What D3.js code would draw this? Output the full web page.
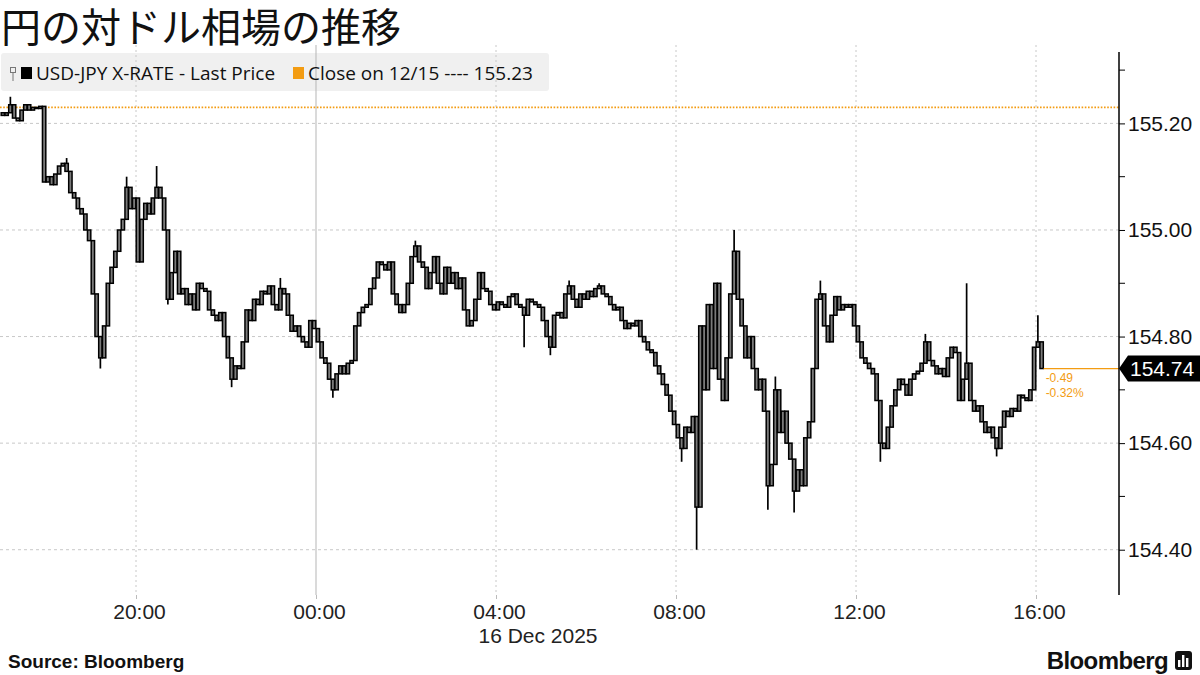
<!DOCTYPE html>
<html>
<head>
<meta charset="utf-8">
<script src="https://cdn.jsdelivr.net/npm/d3@7"></script>
<style>
  body { margin: 0; background: #fff; }
  svg { display: block; font-family: "Liberation Sans", Arial, sans-serif; }
</style>
</head>
<body>
<svg id="drawing_region"></svg>
<script>
// USD-JPY 5 minute bars, 15 Dec 17:00 -> 16 Dec 16:05 (closes)
const firstBar = new Date(2025, 11, 15, 17, 0);
const firstOpen = 155.22;
const closes = [
  155.215, 155.22, 155.235, 155.21, 155.205, 155.225, 155.235, 155.225, 155.23, 155.228, 155.232, 155.09,
  155.10, 155.085, 155.105, 155.12, 155.125, 155.11, 155.07, 155.06, 155.04, 155.03, 155.00, 154.98,
  154.88, 154.80, 154.76, 154.82, 154.90, 154.93, 154.96, 155.00, 155.02, 155.08, 155.04, 155.06,
  154.94, 155.02, 155.05, 155.03, 155.06, 155.08, 155.06, 155.00, 154.87, 154.92, 154.96, 154.88,
  154.89, 154.86, 154.88, 154.85, 154.90, 154.89, 154.885, 154.85, 154.84, 154.83, 154.845, 154.80,
  154.76, 154.72, 154.745, 154.74, 154.79, 154.85, 154.83, 154.87, 154.86, 154.885, 154.88, 154.895,
  154.86, 154.85, 154.89, 154.88, 154.84, 154.81, 154.82, 154.80, 154.79, 154.78, 154.83, 154.815,
  154.79, 154.76, 154.75, 154.72, 154.70, 154.73, 154.745, 154.73, 154.75, 154.755, 154.82, 154.845,
  154.855, 154.86, 154.89, 154.91, 154.94, 154.935, 154.925, 154.94, 154.88, 154.86, 154.845, 154.86,
  154.90, 154.95, 154.97, 154.94, 154.93, 154.89, 154.92, 154.95, 154.90, 154.88, 154.93, 154.90,
  154.92, 154.89, 154.91, 154.85, 154.82, 154.83, 154.87, 154.92, 154.89, 154.885, 154.86, 154.85,
  154.865, 154.86, 154.855, 154.875, 154.88, 154.86, 154.855, 154.84, 154.87, 154.865, 154.86, 154.855,
  154.83, 154.80, 154.78, 154.84, 154.845, 154.835, 154.88, 154.895, 154.87, 154.855, 154.88, 154.87,
  154.885, 154.875, 154.89, 154.895, 154.88, 154.875, 154.86, 154.85, 154.855, 154.83, 154.815, 154.825,
  154.82, 154.83, 154.80, 154.79, 154.775, 154.77, 154.745, 154.73, 154.71, 154.69, 154.66, 154.635,
  154.61, 154.59, 154.63, 154.62, 154.65, 154.48, 154.82, 154.70, 154.86, 154.74, 154.90, 154.72,
  154.68, 154.76, 154.88, 154.96, 154.87, 154.82, 154.76, 154.80, 154.74, 154.70, 154.72, 154.66,
  154.52, 154.56, 154.70, 154.62, 154.66, 154.60, 154.57, 154.51, 154.55, 154.52, 154.61, 154.64,
  154.74, 154.87, 154.88, 154.82, 154.79, 154.84, 154.875, 154.85, 154.86, 154.855, 154.86, 154.82,
  154.79, 154.76, 154.75, 154.74, 154.73, 154.68, 154.60, 154.59, 154.63, 154.67, 154.70, 154.72,
  154.71, 154.69, 154.72, 154.73, 154.735, 154.75, 154.79, 154.755, 154.745, 154.73, 154.74, 154.725,
  154.76, 154.78, 154.77, 154.68, 154.72, 154.75, 154.68, 154.66, 154.67, 154.64, 154.62, 154.63,
  154.61, 154.59, 154.63, 154.66, 154.65, 154.665, 154.66, 154.69, 154.685, 154.68, 154.70, 154.78,
  154.79, 154.74
];
// [bar index, price] for wicks that reach beyond the bar body
const wickHighs = [[2, 155.25], [17, 155.135], [33, 155.10], [41, 155.12], [74, 154.91], [110, 154.98],
  [151, 154.905], [159, 154.90], [195, 155.00], [206, 154.725], [218, 154.905], [246, 154.805],
  [257, 154.90], [276, 154.84]];
const wickLows = [[26, 154.74], [44, 154.86], [61, 154.705], [88, 154.685], [139, 154.78], [146, 154.765],
  [181, 154.565], [185, 154.40], [204, 154.475], [211, 154.47], [234, 154.565], [265, 154.575]];

const prevClose = 155.23;
const lastPrice = 154.74;
const netChange = '-0.49';
const pctChange = '-0.32%';

const yTicks = [154.40, 154.60, 154.80, 155.00, 155.20];
const yMinorTicks = [154.50, 154.70, 154.90, 155.10, 155.30];
const xTicks = [new Date(2025, 11, 15, 20), new Date(2025, 11, 16, 0), new Date(2025, 11, 16, 4),
  new Date(2025, 11, 16, 8), new Date(2025, 11, 16, 12), new Date(2025, 11, 16, 16)];
const xTickLabels = ['20:00', '00:00', '04:00', '08:00', '12:00', '16:00'];
const dateLabel = '16 Dec 2025';

const title = '円の対ドル相場の推移';
const legendItems = ['USD-JPY X-RATE - Last Price', 'Close on 12/15 ---- 155.23'];

class BarChart {
  constructor(config, data) {
    this.config = config;
    this.data = data;
    this.init();
  }

  init() {
    let self = this;
    const c = self.config;
    self.svg = d3.select(c.parent)
      .attr('width', c.width)
      .attr('height', c.height);

    self.x = d3.scaleTime()
      .domain([new Date(2025, 11, 15, 16, 58, 40), new Date(2025, 11, 16, 17, 50, 40)])
      .range([c.left, c.right]);
    self.y = d3.scaleLinear()
      .domain([154.315, 155.334])
      .range([c.bottom, c.top]);
  }

  render() {
    let self = this;
    const c = self.config, x = self.x, y = self.y, svg = self.svg;
    const orange = '#f39c12';

    // title
    svg.append('text')
      .attr('x', 1).attr('y', 42)
      .style('font-family', '"Noto Sans CJK JP", sans-serif')
      .style('font-size', '40px')
      .style('font-weight', 400)
      .attr('fill', '#111')
      .text(title);

    // legend background
    svg.append('rect')
      .attr('x', 1).attr('y', 53).attr('width', 548).attr('height', 38)
      .attr('rx', 3)
      .attr('fill', '#f0f0f0');

    // horizontal grid
    svg.append('g').selectAll('line')
      .data(yTicks).join('line')
      .attr('x1', c.left).attr('x2', c.right)
      .attr('y1', d => y(d)).attr('y2', d => y(d))
      .attr('stroke', '#c8c8c8').attr('stroke-dasharray', '3,3');

    // vertical grid, solid at the day change
    svg.append('g').selectAll('line')
      .data(xTicks).join('line')
      .attr('x1', d => x(d)).attr('x2', d => x(d))
      .attr('y1', 45).attr('y2', c.bottom)
      .attr('stroke', d => d.getHours() === 0 ? '#b5b5b5' : '#c8c8c8')
      .attr('stroke-dasharray', d => d.getHours() === 0 ? null : '2,3');

    // previous close line
    svg.append('line')
      .attr('x1', c.left).attr('x2', c.right)
      .attr('y1', y(prevClose)).attr('y2', y(prevClose))
      .attr('stroke', orange).attr('stroke-width', 1.6)
      .attr('stroke-dasharray', '1.6,1.6');

    // bars
    const bw = 3.75;
    const bars = svg.append('g').selectAll('g')
      .data(self.data).join('g');
    bars.append('line')
      .attr('x1', d => x(d.mid)).attr('x2', d => x(d.mid))
      .attr('y1', d => y(d.high)).attr('y2', d => y(d.low))
      .attr('stroke', '#000').attr('stroke-width', 1.7);
    bars.append('rect')
      .attr('x', d => x(d.mid) - bw / 2 + 0.2)
      .attr('width', bw - 0.4)
      .attr('y', d => y(Math.max(d.open, d.close)))
      .attr('height', d => Math.max(0.5, Math.abs(y(d.open) - y(d.close))))
      .attr('fill', '#7a7a7a')
      .attr('stroke', '#000').attr('stroke-width', 1.5);

    // last price line + change labels
    const last = self.data[self.data.length - 1];
    svg.append('line')
      .attr('x1', x(last.mid) + 2).attr('x2', c.right)
      .attr('y1', y(lastPrice)).attr('y2', y(lastPrice))
      .attr('stroke', orange).attr('stroke-width', 1.2);
    svg.append('text')
      .attr('x', x(last.mid) + 4).attr('y', y(lastPrice) + 13)
      .attr('fill', orange).style('font-size', '12px')
      .text(netChange);
    svg.append('text')
      .attr('x', x(last.mid) + 4).attr('y', y(lastPrice) + 28)
      .attr('fill', orange).style('font-size', '12px')
      .text(pctChange);

    // right axis
    const yAxis = d3.axisRight(y)
      .tickValues(yTicks)
      .tickSize(6)
      .tickFormat(d3.format('.2f'));
    const ag = svg.append('g')
      .attr('transform', `translate(${c.right},0)`)
      .call(yAxis);
    ag.select('.domain').remove();
    ag.selectAll('text').style('font-size', '21px').attr('fill', '#111').attr('x', 9);
    ag.selectAll('line').attr('stroke', '#000');
    svg.append('g')
      .attr('transform', `translate(${c.right},0)`)
      .selectAll('line').data(yMinorTicks).join('line')
      .attr('x1', 0).attr('x2', 6)
      .attr('y1', d => y(d)).attr('y2', d => y(d))
      .attr('stroke', '#000');
    svg.append('line')
      .attr('x1', c.right).attr('x2', c.right)
      .attr('y1', c.top).attr('y2', c.bottom)
      .attr('stroke', '#000').attr('stroke-width', 1.5);

    // last price tag
    const ty = y(lastPrice);
    svg.append('path')
      .attr('d', `M${c.right},${ty} L${c.right + 9},${ty - 13} L1200,${ty - 13} L1200,${ty + 13} L${c.right + 9},${ty + 13} Z`)
      .attr('fill', '#000');
    svg.append('text')
      .attr('x', c.right + 11).attr('y', ty + 7.5)
      .attr('fill', '#fff').style('font-size', '21px')
      .text(d3.format('.2f')(lastPrice));

    // bottom axis
    const xAxis = d3.axisBottom(x)
      .tickValues(xTicks)
      .tickSize(4)
      .tickFormat((d, i) => xTickLabels[i]);
    const xg = svg.append('g')
      .attr('transform', `translate(0,${c.bottom})`)
      .call(xAxis);
    xg.select('.domain').remove();
    xg.selectAll('line').attr('stroke', '#bbb');
    xg.selectAll('text').style('font-size', '21px').attr('fill', '#222').attr('y', 6).attr('dy', '0.85em')
      .attr('dx', 3);
    svg.append('text')
      .attr('x', x(xTicks[2]) + 42).attr('y', 643)
      .attr('text-anchor', 'middle')
      .style('font-size', '21px').attr('fill', '#222')
      .text(dateLabel);

    // legend
    const lg = svg.append('g').style('font-family', '"Open Sans", sans-serif').style('font-size', '19px');
    lg.append('rect').attr('x', 10.5).attr('y', 67.5).attr('width', 5).attr('height', 5)
      .attr('fill', 'none').attr('stroke', '#777');
    lg.append('line').attr('x1', 13).attr('x2', 13).attr('y1', 73).attr('y2', 81).attr('stroke', '#777');
    lg.append('rect').attr('x', 21).attr('y', 67).attr('width', 11).attr('height', 12).attr('fill', '#000');
    lg.append('text').attr('x', 36).attr('y', 79.5).attr('fill', '#111').text(legendItems[0]);
    lg.append('rect').attr('x', 293).attr('y', 67).attr('width', 11).attr('height', 12).attr('fill', orange);
    lg.append('text').attr('x', 308).attr('y', 79.5).attr('fill', '#111').text(legendItems[1]);

    // footer
    svg.append('text')
      .attr('x', 8).attr('y', 668)
      .style('font-size', '19px').style('font-weight', 'bold').attr('fill', '#111')
      .text('Source: Bloomberg');
    svg.append('text')
      .attr('x', 1168).attr('y', 669).attr('text-anchor', 'end')
      .style('font-size', '24px').style('font-weight', 'bold').style('letter-spacing', '-0.6px')
      .attr('fill', '#111')
      .text('Bloomberg');
    svg.append('rect')
      .attr('x', 1175).attr('y', 651).attr('width', 17).attr('height', 19).attr('rx', 3)
      .attr('fill', '#111');
    svg.append('g').selectAll('rect')
      .data([[1178, 660, 7], [1182, 655, 12], [1186, 658, 9]]).join('rect')
      .attr('x', d => d[0]).attr('y', d => d[1]).attr('width', 2.4).attr('height', d => d[2])
      .attr('fill', '#fff');
  }
}

// build OHLC rows
const highMap = new Map(wickHighs), lowMap = new Map(wickLows);
const bars = closes.map((c, i) => {
  const open = i === 0 ? firstOpen : closes[i - 1];
  const t = d3.timeMinute.offset(firstBar, i * 5);
  return {
    mid: d3.timeSecond.offset(t, 150),
    open: open,
    close: c,
    high: Math.max(open, c, highMap.get(i) || -Infinity),
    low: Math.min(open, c, lowMap.get(i) || Infinity)
  };
});

const chart = new BarChart({
  parent: '#drawing_region',
  width: 1200, height: 675,
  left: 0, right: 1119, top: 52, bottom: 595
}, bars);
chart.render();
</script>
</body>
</html>
